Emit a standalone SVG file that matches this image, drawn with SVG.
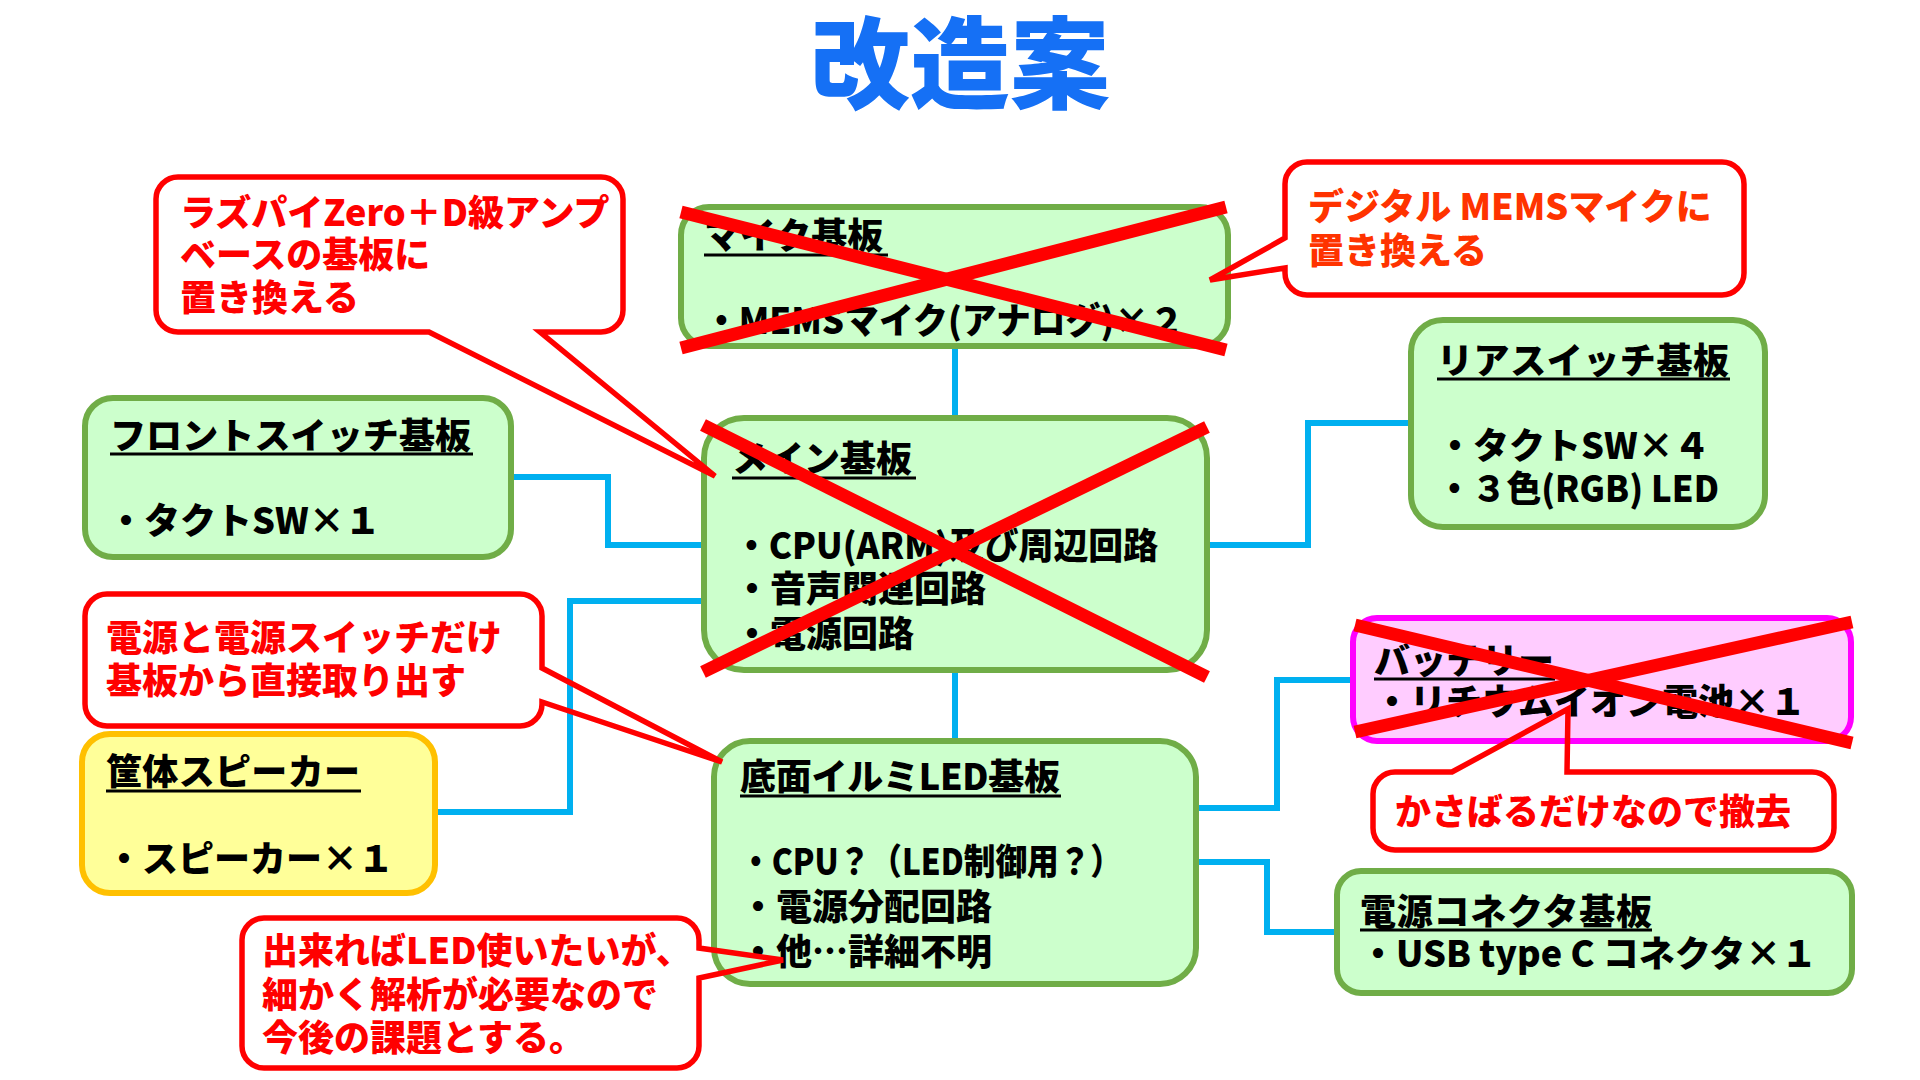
<svg xmlns="http://www.w3.org/2000/svg" width="1920" height="1080" viewBox="0 0 1920 1080">
<style>
text{font-family:"Noto Sans CJK JP","Noto Sans",sans-serif;font-weight:900}
.title{font-size:100px;fill:#1570F5;text-anchor:middle}
.t{font-size:36px;fill:#000}
.c{font-size:36px;fill:#FF0000}
.c2{font-size:36px;fill:#FF3300}
.g{fill:#CCFFCC;stroke:#70AD47;stroke-width:6}
.y{fill:#FFFF99;stroke:#FFC000;stroke-width:6}
.p{fill:#FFCCFF;stroke:#FF00FF;stroke-width:6}
.ul{stroke:#000;stroke-width:3}
.conn{fill:none;stroke:#00B0F0;stroke-width:6}
.x{stroke:#FF0000;stroke-width:13}
.cb{fill:#FFFFFF}
.co{fill:none;stroke:#FF0000;stroke-width:5.5;stroke-linejoin:miter}
</style>
<rect width="1920" height="1080" fill="#FFFFFF"/>
<text class="title" x="960" y="101">改造案</text>

<g id="connectors">
<path class="conn" d="M955,347 V418"/>
<path class="conn" d="M955,670 V740"/>
<path class="conn" d="M511,477 H608 V545 H704"/>
<path class="conn" d="M435,812 H570 V601 H704"/>
<path class="conn" d="M1207,545 H1308 V423 H1411"/>
<path class="conn" d="M1196,808 H1277 V680 H1352"/>
<path class="conn" d="M1196,862 H1267 V932 H1336"/>
</g>

<g id="front-switch">
<rect class="g" x="85" y="398" width="426" height="159" rx="28"/>
<text class="t" x="110" y="449" textLength="361">フロントスイッチ基板</text>
<line class="ul" x1="110" y1="454" x2="473" y2="454"/>
<text class="t" x="108" y="534">・タクトSW×１</text>
</g>

<g id="mic-board">
<rect class="g" x="681" y="207" width="547" height="139" rx="28"/>
<text class="t" x="704" y="249">マイク基板</text>
<line class="ul" x1="704" y1="255" x2="888" y2="255"/>
<text class="t" x="704" y="334" textLength="480" lengthAdjust="spacingAndGlyphs">・MEMSマイク(アナログ)×２</text>
<line class="x" x1="681" y1="212" x2="1226" y2="350"/>
<line class="x" x1="681" y1="348" x2="1226" y2="207"/>
</g>

<g id="main-board">
<rect class="g" x="704" y="418" width="503" height="252" rx="40"/>
<text class="t" x="732" y="472">メイン基板</text>
<line class="ul" x1="732" y1="478" x2="916" y2="478"/>
<text class="t" x="734" y="559" textLength="424" lengthAdjust="spacingAndGlyphs">・CPU(ARM)及び周辺回路</text>
<text class="t" x="734" y="602">・音声関連回路</text>
<text class="t" x="734" y="647">・電源回路</text>
<line class="x" x1="703" y1="425" x2="1207" y2="677"/>
<line class="x" x1="703" y1="672" x2="1207" y2="427"/>
</g>

<g id="rear-switch">
<rect class="g" x="1411" y="320" width="354" height="207" rx="32"/>
<text class="t" x="1437" y="374" textLength="292">リアスイッチ基板</text>
<line class="ul" x1="1437" y1="379" x2="1730" y2="379"/>
<text class="t" x="1437" y="459">・タクトSW×４</text>
<text class="t" x="1437" y="502" textLength="282" lengthAdjust="spacingAndGlyphs">・３色(RGB) LED</text>
</g>

<g id="speaker">
<rect class="y" x="82" y="734" width="353" height="159" rx="28"/>
<text class="t" x="106" y="785" textLength="254">筐体スピーカー</text>
<line class="ul" x1="106" y1="791" x2="361" y2="791"/>
<text class="t" x="106" y="872">・スピーカー×１</text>
</g>

<g id="led-board">
<rect class="g" x="714" y="741" width="482" height="243" rx="36"/>
<text class="t" x="740" y="790" textLength="320">底面イルミLED基板</text>
<line class="ul" x1="740" y1="796" x2="1061" y2="796"/>
<text class="t" x="740" y="875" textLength="382" lengthAdjust="spacingAndGlyphs">・CPU？（LED制御用？）</text>
<text class="t" x="740" y="920">・電源分配回路</text>
<text class="t" x="740" y="965">・他…詳細不明</text>
</g>

<g id="battery">
<rect class="p" x="1353" y="618" width="498" height="123" rx="24"/>
<text class="t" x="1374" y="674">バッテリー</text>
<line class="ul" x1="1374" y1="679" x2="1555" y2="679"/>
<text class="t" x="1374" y="715">・リチウムイオン電池×１</text>
<line class="x" x1="1355" y1="625" x2="1852" y2="743"/>
<line class="x" x1="1355" y1="732" x2="1852" y2="622"/>
</g>

<g id="power-connector">
<rect class="g" x="1337" y="871" width="515" height="122" rx="24"/>
<text class="t" x="1360" y="925" textLength="292">電源コネクタ基板</text>
<line class="ul" x1="1360" y1="930" x2="1652" y2="930"/>
<text class="t" x="1360" y="967">・USB type C コネクタ×１</text>
</g>

<g id="callout-raspi">
<rect class="cb" x="156" y="177" width="467" height="155" rx="22"/>
<path class="co" d="M178,177 H601 A22,22 0 0 1 623,199 V310 A22,22 0 0 1 601,332 H540 L715,476 L429,332 H178 A22,22 0 0 1 156,310 V199 A22,22 0 0 1 178,177 Z"/>
<text class="c" x="180" y="226">ラズパイZero＋D級アンプ</text>
<text class="c" x="180" y="268">ベースの基板に</text>
<text class="c" x="180" y="311">置き換える</text>
</g>

<g id="callout-mems">
<rect class="cb" x="1285" y="162" width="459" height="133" rx="22"/>
<path class="co" d="M1307,162 H1722 A22,22 0 0 1 1744,184 V273 A22,22 0 0 1 1722,295 H1307 A22,22 0 0 1 1285,273 V268 L1210,280 L1285,238 V184 A22,22 0 0 1 1307,162 Z"/>
<text class="c2" x="1308" y="220">デジタル MEMSマイクに</text>
<text class="c2" x="1308" y="264">置き換える</text>
</g>

<g id="callout-power">
<rect class="cb" x="85" y="594" width="457" height="132" rx="22"/>
<path class="co" d="M107,594 H520 A22,22 0 0 1 542,616 V668 L722,762 L542,702 V704 A22,22 0 0 1 520,726 H107 A22,22 0 0 1 85,704 V616 A22,22 0 0 1 107,594 Z"/>
<text class="c" x="106" y="651">電源と電源スイッチだけ</text>
<text class="c" x="106" y="694">基板から直接取り出す</text>
</g>

<g id="callout-battery">
<rect class="cb" x="1373" y="772" width="461" height="78" rx="22"/>
<path class="co" d="M1395,772 H1452 L1568,709 L1567,772 H1812 A22,22 0 0 1 1834,794 V828 A22,22 0 0 1 1812,850 H1395 A22,22 0 0 1 1373,828 V794 A22,22 0 0 1 1395,772 Z"/>
<text class="c" x="1395" y="825">かさばるだけなので撤去</text>
</g>

<g id="callout-led">
<rect class="cb" x="242" y="918" width="457" height="150" rx="22"/>
<path class="co" d="M264,918 H677 A22,22 0 0 1 699,940 V948 L783,960 L699,978 V1046 A22,22 0 0 1 677,1068 H264 A22,22 0 0 1 242,1046 V940 A22,22 0 0 1 264,918 Z"/>
<text class="c" x="262" y="964">出来ればLED使いたいが、</text>
<text class="c" x="262" y="1008">細かく解析が必要なので</text>
<text class="c" x="262" y="1051">今後の課題とする。</text>
</g>
</svg>
